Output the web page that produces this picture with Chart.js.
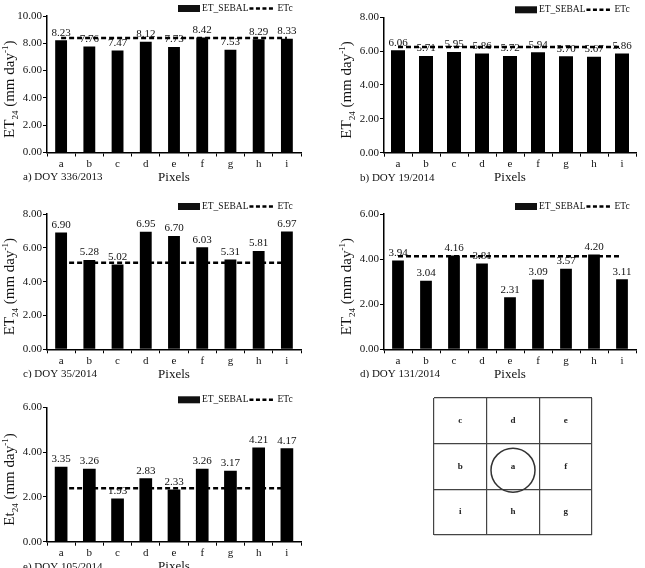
<!DOCTYPE html>
<html>
<head>
<meta charset="utf-8">
<script src="https://cdn.jsdelivr.net/npm/chart.js@4.4.0/dist/chart.umd.min.js"></script>
<style>
  body { margin: 0; background: #fff; width: 645px; height: 568px; position: relative; overflow: hidden; }
  canvas { position: absolute; }
</style>
</head>
<body>
<script>
// categories (pixel positions around the central pixel)
const pixelLabels = ['a', 'b', 'c', 'd', 'e', 'f', 'g', 'h', 'i'];

// ET_SEBAL per pixel, and ETc (reference line) per panel
const etSebalA = [8.23, 7.76, 7.47, 8.12, 7.73, 8.42, 7.53, 8.29, 8.33];
const etcA     = [8.38, 8.38, 8.38, 8.38, 8.38, 8.38, 8.38, 8.38, 8.38];
const etSebalB = [6.06, 5.71, 5.95, 5.86, 5.72, 5.94, 5.70, 5.67, 5.86];
const etcB     = [6.25, 6.25, 6.25, 6.25, 6.25, 6.25, 6.25, 6.25, 6.25];
const etSebalC = [6.90, 5.28, 5.02, 6.95, 6.70, 6.03, 5.31, 5.81, 6.97];
const etcC     = [5.12, 5.12, 5.12, 5.12, 5.12, 5.12, 5.12, 5.12, 5.12];
const etSebalD = [3.94, 3.04, 4.16, 3.81, 2.31, 3.09, 3.57, 4.20, 3.11];
const etcD     = [4.13, 4.13, 4.13, 4.13, 4.13, 4.13, 4.13, 4.13, 4.13];
const etSebalE = [3.35, 3.26, 1.93, 2.83, 2.33, 3.26, 3.17, 4.21, 4.17];
const etcE     = [2.39, 2.39, 2.39, 2.39, 2.39, 2.39, 2.39, 2.39, 2.39];

const captions = ['a) DOY 336/2013', 'b) DOY 19/2014', 'c) DOY 35/2014', 'd) DOY 131/2014', 'e) DOY 105/2014'];
const yStems = ['ET', 'ET', 'ET', 'ET', 'Et'];
const yMaxes = [10, 8, 8, 6, 6];
const xTitle = 'Pixels';

// the 3x3 pixel window diagram
const gridLetters = [['c', 'd', 'e'], ['b', 'a', 'f'], ['i', 'h', 'g']];
const centerPixel = [{ x: 1.5, y: 1.42, r: 22 }];

const SERIF = "'Liberation Serif', 'Times New Roman', serif";

// canvas boxes and wanted plot areas (page pixels)
const panels = [
  { sebal: etSebalA, etc: etcA, box: [0, 0, 322, 190],     area: [47, 16, 301, 152.5],    bar: 0.42 },
  { sebal: etSebalB, etc: etcB, box: [322, 0, 323, 190],   area: [384, 17.3, 636, 152.7], bar: 0.5 },
  { sebal: etSebalC, etc: etcC, box: [0, 186, 322, 192],   area: [47, 214, 301, 349.3],   bar: 0.42 },
  { sebal: etSebalD, etc: etcD, box: [322, 186, 323, 192], area: [384, 214, 636, 349.3],  bar: 0.42 },
  { sebal: etSebalE, etc: etcE, box: [0, 378, 322, 190],   area: [47, 407.3, 301, 541.7], bar: 0.45 }
];

const panelText = {
  id: 'panelText',
  afterDatasetDraw(chart, args, opts) {
    if (args.index !== 0) return;
    const ctx = chart.ctx;
    const values = chart.data.datasets[0].data;
    ctx.save();
    ctx.font = '11px ' + SERIF;
    ctx.fillStyle = '#111';
    ctx.textAlign = 'center';
    ctx.textBaseline = 'bottom';
    chart.getDatasetMeta(0).data.forEach((bar, i) => {
      ctx.fillText(values[i].toFixed(2), bar.x, bar.y - 2);
    });
    ctx.restore();
  },
  afterDraw(chart, args, opts) {
    const ctx = chart.ctx;
    const a = chart.chartArea;
    ctx.save();
    ctx.fillStyle = '#111';
    ctx.strokeStyle = '#000';

    // legend
    let x = a.left + 131;
    const y = a.top - 7.5;
    ctx.fillRect(x, y - 3.5, 22, 7);
    ctx.font = '9.5px ' + SERIF;
    ctx.textAlign = 'left';
    ctx.textBaseline = 'middle';
    const l1 = chart.data.datasets[0].label;
    ctx.fillText(l1, x + 24, y);
    x += 24 + ctx.measureText(l1).width + 1;
    ctx.setLineDash([4, 2.5]);
    ctx.lineWidth = 2.5;
    ctx.beginPath();
    ctx.moveTo(x, y);
    ctx.lineTo(x + 24, y);
    ctx.stroke();
    ctx.setLineDash([]);
    ctx.fillText(chart.data.datasets[1].label, x + 28, y);

    // caption + x title
    ctx.font = '11px ' + SERIF;
    ctx.fillText(opts.caption, a.left - 24, a.bottom + 25);
    ctx.font = '13px ' + SERIF;
    ctx.textAlign = 'center';
    ctx.fillText(xTitle, (a.left + a.right) / 2, a.bottom + 25);

    // y title with sub/superscript
    ctx.translate(a.left - 38, (a.top + a.bottom) / 2 + 5);
    ctx.rotate(-Math.PI / 2);
    const parts = [[opts.stem, 15, 0], ['24', 9, 4], [' (mm day', 15, 0], ['-1', 9, -6], [')', 15, 0]];
    let total = 0;
    parts.forEach(p => { ctx.font = p[1] + 'px ' + SERIF; total += ctx.measureText(p[0]).width; });
    let px = -total / 2;
    ctx.textAlign = 'left';
    ctx.textBaseline = 'alphabetic';
    parts.forEach(p => {
      ctx.font = p[1] + 'px ' + SERIF;
      ctx.fillText(p[0], px, 5 + p[2]);
      px += ctx.measureText(p[0]).width;
    });
    ctx.restore();
  }
};

function addCanvas(box) {
  const c = document.createElement('canvas');
  c.width = box[2];
  c.height = box[3];
  c.style.left = box[0] + 'px';
  c.style.top = box[1] + 'px';
  c.style.width = box[2] + 'px';
  c.style.height = box[3] + 'px';
  document.body.appendChild(c);
  return c;
}

const X_HEIGHT = 18;

panels.forEach((p, k) => {
  const [bx, by, bw, bh] = p.box;
  const [al, at, ar, ab] = p.area;
  const canvas = addCanvas(p.box);
  new Chart(canvas, {
    type: 'bar',
    data: {
      labels: pixelLabels,
      datasets: [
        {
          label: 'ET_SEBAL',
          data: p.sebal,
          backgroundColor: '#000',
          barPercentage: p.bar,
          categoryPercentage: 1,
          order: 1
        },
        {
          type: 'line',
          label: 'ETc',
          data: p.etc,
          borderColor: '#000',
          borderWidth: 2.5,
          borderDash: [5, 3],
          pointRadius: 0,
          fill: false,
          order: 0
        }
      ]
    },
    options: {
      responsive: false,
      animation: false,
      devicePixelRatio: 1,
      layout: {
        padding: { left: 0, top: at - by, right: bx + bw - ar, bottom: by + bh - ab - X_HEIGHT }
      },
      plugins: {
        legend: { display: false },
        tooltip: { enabled: false },
        panelText: { caption: captions[k], stem: yStems[k] }
      },
      scales: {
        x: {
          afterFit(s) { s.height = X_HEIGHT; },
          grid: { display: true, drawOnChartArea: false, offset: true, tickLength: 4, color: '#000', lineWidth: 1 },
          border: { display: true, color: '#000', width: 1.5 },
          ticks: { font: { family: SERIF, size: 11 }, color: '#111', padding: 1 }
        },
        y: {
          min: 0,
          max: yMaxes[k],
          afterFit(s) { s.width = al - bx; },
          grid: { display: true, drawOnChartArea: false, tickLength: 4, color: '#000', lineWidth: 1 },
          border: { display: true, color: '#000', width: 1.5 },
          ticks: {
            stepSize: 2,
            font: { family: SERIF, size: 11 },
            color: '#111',
            padding: 1,
            callback: v => v.toFixed(2)
          }
        }
      }
    },
    plugins: [panelText]
  });
});

// pixel window diagram
const gridText = {
  id: 'gridText',
  afterDatasetsDraw(chart) {
    const ctx = chart.ctx;
    const xs = chart.scales.x, ys = chart.scales.y;
    ctx.save();
    ctx.font = 'bold 9px ' + SERIF;
    ctx.fillStyle = '#222';
    ctx.textAlign = 'center';
    ctx.textBaseline = 'middle';
    gridLetters.forEach((row, r) => {
      row.forEach((ch, c) => {
        ctx.fillText(ch, xs.getPixelForValue(c + 0.5), ys.getPixelForValue(2.5 - r));
      });
    });
    ctx.restore();
  }
};

const gridBox = [420, 385, 190, 165];
const gridArea = [434, 398, 592, 535];
new Chart(addCanvas(gridBox), {
  type: 'bubble',
  data: {
    datasets: [{
      data: centerPixel,
      backgroundColor: 'rgba(0,0,0,0)',
      borderColor: '#333',
      borderWidth: 1.5
    }]
  },
  options: {
    responsive: false,
    animation: false,
    devicePixelRatio: 1,
    layout: {
      autoPadding: false,
      padding: {
        left: gridArea[0] - gridBox[0],
        top: gridArea[1] - gridBox[1],
        right: gridBox[0] + gridBox[2] - gridArea[2],
        bottom: gridBox[1] + gridBox[3] - gridArea[3]
      }
    },
    plugins: { legend: { display: false }, tooltip: { enabled: false } },
    scales: {
      x: {
        type: 'linear', min: 0, max: 3,
        afterFit(s) { s.height = 0; },
        ticks: { display: false, stepSize: 1 },
        grid: { color: '#444', lineWidth: 1.2, drawTicks: false },
        border: { display: false }
      },
      y: {
        type: 'linear', min: 0, max: 3,
        afterFit(s) { s.width = 0; },
        ticks: { display: false, stepSize: 1 },
        grid: { color: '#444', lineWidth: 1.2, drawTicks: false },
        border: { display: false }
      }
    }
  },
  plugins: [gridText]
});
</script>
</body>
</html>
